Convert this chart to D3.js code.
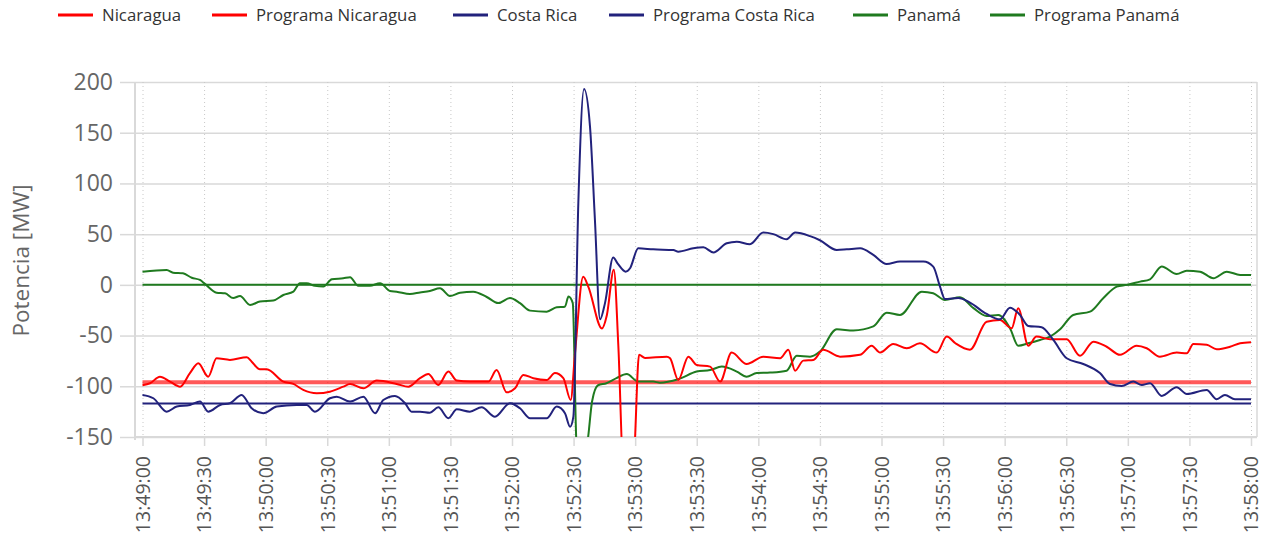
<!DOCTYPE html>
<html><head><meta charset="utf-8">
<script src="https://cdn.jsdelivr.net/npm/d3@7"></script>
<style>
body{margin:0;background:#fff}
svg{display:block;font-family:'Open Sans',sans-serif}
</style>
</head><body>
<svg id="chart" width="1266" height="540"></svg>
<script>
// ---------- DATA (seconds after 13:49:00, MW) ----------
const seriesNames = ["Nicaragua","Programa Nicaragua","Costa Rica","Programa Costa Rica","Panamá","Programa Panamá"];
const yTicks = [-150,-100,-50,0,50,100,150,200];

const nicaragua = [[0,-99],[3.7,-97],[8.5,-90.5],[13.4,-95.4],[18.3,-100.4],[23.1,-87],[27.2,-77.3],[32,-90.5],[36.1,-72.4],[42.6,-74],[50.8,-71.4],[53.2,-75.7],[57.2,-83.2],[60.5,-83.2],[68.6,-95.4],[73.5,-97.7],[78.3,-103.6],[84.9,-106.9],[91.3,-105.3],[97.8,-100.4],[101.1,-97.7],[107.6,-102],[114.1,-94.4],[123.8,-97.7],[129.5,-100.4],[135.2,-92],[139.2,-88],[144.1,-98.7],[149,-85.5],[153.1,-94.4],[159.5,-95.4],[168.5,-95.4],[172.5,-84],[177.4,-106],[181.5,-102],[185.5,-88.8],[190.4,-92],[196.9,-93.8],[200.9,-87],[205,-92],[208.6,-113.5],[210.7,-67],[214.7,8],[217.2,-2],[223.8,-43],[226.2,-30],[229.6,15],[231.8,-60],[234.2,-175],[239.1,-175],[241.9,-69],[244.8,-72],[255.4,-70.8],[257,-72.4],[261,-93.8],[265.9,-70.8],[270,-79],[276.5,-80.6],[281.4,-95.4],[287,-66.8],[294.3,-78],[302.4,-70.8],[310.6,-72.4],[314.6,-64],[317.9,-84.6],[321.9,-74.7],[326.8,-74],[331.6,-64],[339.8,-70.8],[349.5,-69],[355.2,-60],[359.3,-66.8],[365.7,-58.3],[372.3,-62.5],[378.7,-57.6],[386.9,-66.8],[391.8,-51],[396,-57.6],[403.1,-64],[411.2,-36.3],[417.7,-34.6],[423.4,-42.8],[426.6,-23],[431.5,-60],[435.5,-51],[442.1,-53.6],[450.2,-53.6],[456.7,-70],[463.2,-56],[469.7,-61],[476.2,-69],[484.3,-60],[489.2,-62.5],[495.6,-70.8],[503.8,-66.8],[508.7,-67.5],[511.9,-58.3],[518.4,-59],[523.3,-63.5],[529.8,-61],[534.7,-57.6],[540,-56.6]];

const costaRica = [[0,-108.5],[5.3,-111.8],[11.8,-125],[16.7,-120],[23.1,-118.4],[28,-115],[32,-125],[37.8,-118.4],[42.6,-116.7],[48.3,-108.5],[53.2,-121.7],[58.8,-126.6],[65.4,-120],[75.1,-118.4],[80,-118.4],[84,-125],[91.3,-111.8],[94.6,-110.2],[101.1,-115],[107.6,-110.2],[113.3,-126.6],[117.3,-113.5],[123,-109.5],[127.9,-116.7],[131.1,-125],[135.2,-125],[140,-126],[144.1,-120.7],[149,-131.5],[153.1,-122.7],[159.5,-125],[165.2,-120.7],[171.7,-130],[179,-116.7],[183.9,-121.7],[188.8,-131.5],[196.9,-131.5],[201.8,-120],[205.8,-126.6],[208.3,-140],[209.9,-130],[212.3,80],[215.1,193],[218,156],[220.4,64],[222.9,-34],[225.3,-18],[229.3,27],[231.5,21],[235.4,13],[237.5,16.4],[241.5,36],[248.8,35],[258.6,34.4],[261,32.7],[268.3,36],[273.2,37],[278.1,32],[284.6,41],[289.5,42.6],[295.9,40],[302.4,51.5],[307.3,50],[313.8,45],[317.9,51.5],[325.2,48],[330,44],[338.2,34.4],[343.1,35],[349.6,36],[356,29.5],[362.5,20.6],[369,23],[380.4,23],[385.2,18],[388.5,-1.7],[390.9,-14],[397.4,-13],[403.1,-17.5],[411.2,-28.7],[417.7,-34],[422.6,-22.5],[427.5,-29.7],[431.5,-40.5],[438,-41.8],[443.7,-54.3],[450.2,-72.4],[458.3,-78],[466.4,-87],[471.3,-97.7],[477,-99.7],[482.7,-95.4],[486.8,-98.7],[490.8,-97],[496.5,-109.5],[503.8,-101],[508.7,-107.6],[518.4,-103.6],[523.3,-112.8],[527.3,-108.5],[532.2,-112.8],[540,-112.8]];

const panama = [[0,13],[11.8,14.7],[14.9,12],[19.7,11.4],[24,7],[28,4.8],[30.4,1],[36.1,-7.7],[40.2,-8.3],[44.2,-13],[47.5,-11],[52.4,-19.8],[57.2,-16.5],[63.7,-15.5],[68.6,-10],[73.5,-6.7],[76.7,1.6],[80,1.6],[84,-1],[88.1,-1.7],[92.2,5.5],[97.8,6.5],[101.1,7.5],[105.1,-1],[110.8,-1],[115.7,1.6],[120.6,-6],[123.8,-6.7],[130.3,-9],[135.2,-7.5],[140,-6],[144.9,-3.4],[149.8,-11],[154.7,-7.7],[161.1,-6.7],[167.7,-12],[173.3,-18],[179,-13],[183.9,-18],[188.8,-25.4],[196.9,-26.4],[201.8,-22],[205.8,-21.5],[207.5,-11.6],[209.6,-18],[211.5,-160],[214.6,-180],[217.1,-150],[219,-115],[221.9,-99],[226,-97],[230.9,-92],[235.9,-88],[241.5,-95.4],[248.8,-95.4],[252.1,-96.4],[261,-93],[270,-85.5],[276.5,-84],[282.2,-80.6],[289.5,-85.5],[294.3,-90.5],[299.2,-87],[305.7,-86.5],[313.8,-84.6],[318.7,-70],[325.2,-70.8],[330,-65.8],[338.2,-43.8],[346.3,-45],[356,-41],[362.5,-27.4],[369,-29.7],[379.6,-6.7],[385.2,-8.3],[390.9,-15],[398.2,-12.2],[404.8,-23],[411.2,-30.7],[416.9,-29.7],[422.6,-42.8],[426.6,-60],[431.5,-57.6],[437.2,-54.3],[442.1,-51],[447,-43.8],[453.4,-29.7],[461.6,-26.4],[468,-13.2],[474.6,-1.7],[479.5,0],[486,3.2],[490.8,5.5],[496.5,18],[503.8,10.7],[508.7,14],[515.2,13],[521.7,6.5],[528.2,13],[534.7,9.8],[540,9.8]];

const programaNicaragua = [[0,-96],[540,-96]];
const programaCostaRica = [[0,-117],[540,-117]];
const programaPanama = [[0,0],[540,0]];

// ---------- LAYOUT ----------
const P = {left:135, right:1257, top:82, bottom:437};
const svg = d3.select("#chart");
const t0 = new Date(2020,0,1,13,49,0);
const toDate = s => new Date(t0.getTime() + s*1000);
const x = d3.scaleTime().domain([t0, toDate(540)]).range([142.5, 1251]);
const y = d3.scaleLinear().domain([-150,200]).range([P.bottom, P.top]);

const gridCol = "#d9d9d9";

// horizontal grid
const yGrid = svg.append("g").attr("transform",`translate(${P.left},0)`)
  .call(d3.axisLeft(y).tickValues(yTicks).tickSize(-(P.right-P.left)).tickFormat(""));
yGrid.select(".domain").remove();
yGrid.selectAll("line").attr("stroke",gridCol).attr("stroke-width",1.5);

// vertical dotted grid
const xTicks = d3.timeSecond.every(30).range(t0, toDate(541));
const xGrid = svg.append("g").attr("transform",`translate(0,${P.top})`)
  .call(d3.axisBottom(x).tickValues(xTicks).tickSize(P.bottom-P.top).tickFormat(""));
xGrid.select(".domain").remove();
xGrid.selectAll("line").attr("stroke","#c8c8c8").attr("stroke-width",1).attr("stroke-dasharray","1,3");

// frame
svg.append("line").attr("x1",P.right).attr("x2",P.right).attr("y1",P.top).attr("y2",P.bottom)
  .attr("stroke",gridCol).attr("stroke-width",1.5);

// y axis
const yAxis = svg.append("g").attr("transform",`translate(${P.left},0)`)
  .call(d3.axisLeft(y).tickValues(yTicks).tickSize(15).tickPadding(7).tickFormat(d => String(d)));
yAxis.select(".domain").attr("stroke",gridCol).attr("stroke-width",2).attr("d",`M0,${P.top}V${P.bottom+3}`);
yAxis.selectAll("line").attr("stroke",gridCol).attr("stroke-width",1.5);
yAxis.selectAll("text").attr("fill","#666").style("font-size","23px").style("font-family","'Open Sans',sans-serif");

// x axis
const xAxis = svg.append("g").attr("transform",`translate(0,${P.bottom})`)
  .call(d3.axisBottom(x).tickValues(xTicks).tickSize(9).tickFormat(d3.timeFormat("%H:%M:%S")));
xAxis.select(".domain").attr("stroke",gridCol).attr("stroke-width",2).attr("d",`M${P.left},0H${P.right}`);
xAxis.selectAll("line").attr("stroke",gridCol).attr("stroke-width",1.5);
xAxis.selectAll("text").attr("fill","#555").style("font-size","19.5px").style("font-family","'Open Sans',sans-serif")
  .attr("transform","rotate(-90)").attr("text-anchor","end").attr("x",-19).attr("y",0).attr("dy","0.35em");

// axis title
svg.append("text").attr("transform",`translate(29,${(P.top+P.bottom)/2 + 1}) rotate(-90)`)
  .attr("text-anchor","middle").attr("fill","#666").style("font-size","22.5px").text("Potencia [MW]");

// clip
svg.append("clipPath").attr("id","clip").append("rect")
  .attr("x",P.left).attr("y",P.top-2).attr("width",P.right-P.left).attr("height",P.bottom-P.top+2);

const line = d3.line().x(d=>x(toDate(d[0]))).y(d=>y(d[1])).curve(d3.curveMonotoneX);
const plotG = svg.append("g").attr("clip-path","url(#clip)");

const series = [
  {data:programaNicaragua, color:"#ff0000", w:4, op:0.65},
  {data:programaCostaRica, color:"#22227c", w:2, op:1},
  {data:programaPanama, color:"#1f7a1f", w:2, op:1},
  {data:panama, color:"#1f7a1f", w:2, op:1},
  {data:nicaragua, color:"#ff0000", w:2, op:1},
  {data:costaRica, color:"#22227c", w:2, op:1}
];
series.forEach(s=>{
  plotG.append("path").datum(s.data).attr("d",line).attr("fill","none")
    .attr("stroke",s.color).attr("stroke-width",s.w).attr("stroke-opacity",s.op).attr("stroke-linejoin","round");
});

// legend
const legendColors = ["#ff0000","#ff0000","#22227c","#22227c","#1f7a1f","#1f7a1f"];
const legendX = [58,212,453,609,853,990];
const lg = svg.append("g");
seriesNames.forEach((n,i)=>{
  const g = lg.append("g").attr("transform",`translate(${legendX[i]},15)`);
  g.append("line").attr("x1",0).attr("x2",35).attr("stroke",legendColors[i]).attr("stroke-width",3);
  g.append("text").attr("x",44).attr("dy","0.35em").attr("fill","#333").style("font-size","16.8px").text(n);
});
</script>
</body></html>
